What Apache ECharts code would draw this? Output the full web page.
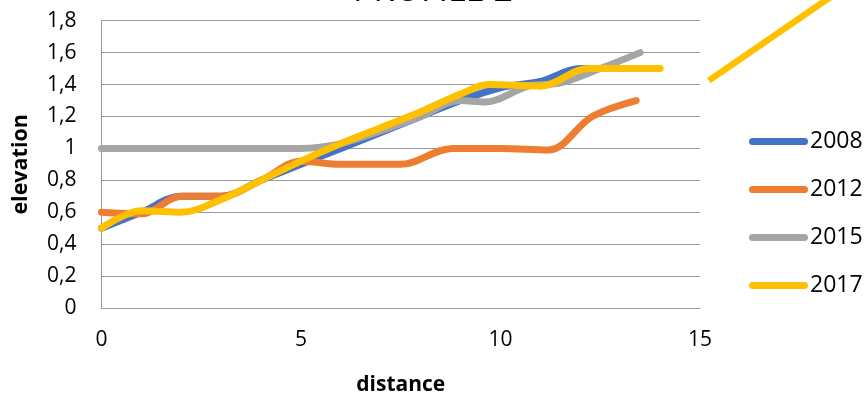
<!DOCTYPE html>
<html><head><meta charset="utf-8">
<script src="https://cdn.jsdelivr.net/npm/echarts@6/dist/echarts.min.js"></script>
<style>html,body{margin:0;padding:0;background:#fff}#c{width:864px;height:393px}</style>
</head><body><div id="c"></div>
<script>
const titleText = 'PROFILE 2';
const xTicks = [0, 5, 10, 15];
const yTicks = [0, 0.2, 0.4, 0.6, 0.8, 1, 1.2, 1.4, 1.6, 1.8];
const seriesNames = ['2008', '2012', '2015', '2017'];

const dist2008 = [0, 1, 2, 3, 4, 5, 6, 7, 8, 9, 10, 11, 12, 13, 13.5];
const elev2008 = [0.5, 0.6, 0.7, 0.7, 0.8, 0.9, 1.0, 1.1, 1.2, 1.3, 1.38, 1.42, 1.5, 1.5, 1.5];

const dist2012 = [0, 1, 2, 3, 4, 5, 6, 7, 7.5, 8.8, 10, 11.2, 12.3, 13.4];
const elev2012 = [0.6, 0.59, 0.7, 0.7, 0.8, 0.92, 0.9, 0.9, 0.9, 1.0, 1.0, 0.99, 1.2, 1.3];

const dist2015 = [0, 1, 2, 3, 4, 5, 6, 7, 8, 9, 9.6, 10.7, 11.5, 12.5, 13.5];
const elev2015 = [1, 1, 1, 1, 1, 1, 1.03, 1.11, 1.2, 1.3, 1.29, 1.39, 1.41, 1.5, 1.6];

const dist2017 = [0, 1, 2, 3, 4, 5, 6, 7, 8, 9, 9.7, 11, 12.2, 13, 14];
const elev2017 = [0.5, 0.61, 0.6, 0.68, 0.8, 0.92, 1.03, 1.13, 1.23, 1.34, 1.4, 1.39, 1.5, 1.5, 1.5];

// stray segment of the 2017 colour drawn outside the plot, right of the axis end
const strayDist = [15.22, 18.57];
const strayElev = [1.425, 2.0];

const colors = ['#4472C4', '#ED7D31', '#A5A5A5', '#FFC000'];
const dists = [dist2008, dist2012, dist2015, dist2017];
const elevs = [elev2008, elev2012, elev2015, elev2017];

const pairs = (xs, ys) => xs.map((x, i) => [x, ys[i]]);
const fmt = v => String(Math.round(v * 10) / 10).replace('.', ',');
const FONT = 'Open Sans';

const series = seriesNames.map((n, i) => ({
  name: n, type: 'line', smooth: 0.35, showSymbol: false, symbol: 'none',
  xAxisIndex: 0, yAxisIndex: 0,
  data: pairs(dists[i], elevs[i]),
  lineStyle: { width: 7, color: colors[i], cap: 'round', join: 'round' },
  itemStyle: { color: colors[i] },
  z: 2 + i
}));
series.push({
  name: 'stray', type: 'line', showSymbol: false, symbol: 'none', clip: false,
  xAxisIndex: 1, yAxisIndex: 1,
  data: pairs(strayDist, strayElev),
  lineStyle: { width: 6.5, color: colors[3], cap: 'butt' },
  itemStyle: { color: colors[3] }, silent: true, z: 10
});

const capsule = 'path://M3.5,0 H55.5 A3.5,3.5 0 0 1 55.5,7 H3.5 A3.5,3.5 0 0 1 3.5,0 Z';

const chart = echarts.init(document.getElementById('c'), null, { renderer: 'canvas' });
chart.setOption({
  animation: false,
  title: {
    text: titleText, left: 428, textAlign: 'center', top: -31,
    textStyle: { fontFamily: FONT, fontSize: 34, fontWeight: 'normal', color: '#000' }
  },
  grid: [
    { left: 101.5, right: 164, top: 20.7, bottom: 85, containLabel: false, outerBoundsMode: 'none' },
    { left: 101.5, right: -35.5, top: -11.2, bottom: 85, containLabel: false, outerBoundsMode: 'none', show: false }
  ],
  legend: {
    orient: 'vertical', left: 749, top: 130, padding: 0,
    data: seriesNames.map(n => ({ name: n, icon: capsule })),
    itemWidth: 59, itemHeight: 7, itemGap: 25,
    textStyle: { fontFamily: FONT, fontSize: 23, color: '#000', padding: [0, 0, 0, -3] }
  },
  xAxis: [{
    type: 'value', min: 0, max: 15, interval: 5, gridIndex: 0,
    name: 'distance', nameLocation: 'middle', nameGap: 67,
    nameTextStyle: { fontFamily: FONT, fontSize: 21, fontWeight: 'bold', color: '#000' },
    axisLine: { show: true, lineStyle: { color: '#999', width: 1 } },
    axisTick: { show: false },
    splitLine: { show: false },
    axisLabel: { fontFamily: FONT, fontSize: 21, color: '#000', margin: 22, formatter: v => fmt(v) }
  }, {
    type: 'value', min: 0, max: 20, gridIndex: 1, show: false
  }],
  yAxis: [{
    type: 'value', min: 0, max: 1.8, interval: 0.2, gridIndex: 0,
    name: 'elevation', nameLocation: 'middle', nameGap: 70, nameRotate: 90,
    nameTextStyle: { fontFamily: FONT, fontSize: 21.5, fontWeight: 'bold', color: '#000' },
    axisLine: { show: true, lineStyle: { color: '#999', width: 1 } },
    axisTick: { show: false },
    splitLine: { show: true, lineStyle: { color: '#999', width: 1 } },
    axisLabel: { fontFamily: FONT, fontSize: 21, color: '#000', margin: 25, formatter: v => fmt(v) }
  }, {
    type: 'value', min: 0, max: 2, gridIndex: 1, show: false
  }],
  series: series
});
</script></body></html>
